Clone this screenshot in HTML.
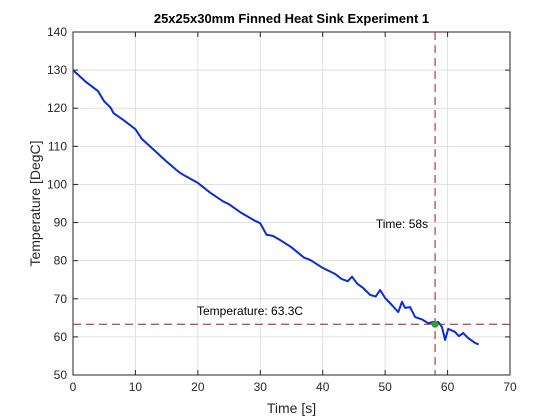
<!DOCTYPE html>
<html><head><style>body{margin:0;background:#fff}svg{display:block;font-family:"Liberation Sans",sans-serif}</style></head>
<body>
<svg id="chart" width="560" height="420" viewBox="0 0 560 420">
<rect width="560" height="420" fill="#fff"/>
<g id="plot"></g>
</svg>
<script>
const times=[0,2,4,5,6,6.5,8,10,11,13,15,17,18,20,22,24,25,27,29,30,31,32,33,35,37,38,40,42,43,44,44.7,45.5,46.5,47.6,48.5,49.2,50,51,52.1,52.7,53.2,54,54.8,56,56.9,57.7,58.5,59.1,59.6,60.1,61.2,61.8,62.5,63.3,64.4,65];
const temps=[130,127,124.5,121.8,120.2,118.7,117,114.5,112,109,106,103.2,102.2,100.4,97.8,95.6,94.8,92.5,90.6,89.8,86.8,86.5,85.6,83.5,80.8,80.2,78.1,76.5,75.2,74.6,75.8,74,72.8,71,70.6,72.3,70.2,68.5,66.5,69.2,67.6,67.8,65.2,64.5,63.6,63.9,63.9,62.6,59.2,62.1,61.3,60.2,61,59.7,58.4,58];
const xTicks=[0,10,20,30,40,50,60,70];
const yTicks=[50,60,70,80,90,100,110,120,130,140];
const markT=[58], markV=[63.3];
const L=73,R=510,T=32,B=375;
const sx=v=>L+(v-0)/70*(R-L), sy=v=>B-(v-50)/90*(B-T);
const NS="http://www.w3.org/2000/svg", g=document.getElementById('plot');
function mk(tag,a,txt){const e=document.createElementNS(NS,tag);for(const k in a)e.setAttribute(k,a[k]);if(txt!==undefined)e.textContent=txt;g.appendChild(e);return e;}
xTicks.forEach(v=>{
 const l=mk('line',{x1:sx(v),x2:sx(v),y1:T,y2:B,stroke:'#e0e0e0','stroke-width':1});
 
 
 mk('line',{x1:sx(v),x2:sx(v),y1:B,y2:B-5,stroke:'#262626'});
 mk('line',{x1:sx(v),x2:sx(v),y1:T,y2:T+5,stroke:'#262626'});
 const t=mk('text',{x:sx(v),y:B+16,'text-anchor':'middle','font-size':12,fill:'#262626'},v);
 
 
});
yTicks.forEach(v=>{
 const l=mk('line',{x1:L,x2:R,y1:sy(v),y2:sy(v),stroke:'#e0e0e0','stroke-width':1});
 
 
 mk('line',{x1:L,x2:L+5,y1:sy(v),y2:sy(v),stroke:'#262626'});
 mk('line',{x1:R,x2:R-5,y1:sy(v),y2:sy(v),stroke:'#262626'});
 const t=mk('text',{x:L-6,y:sy(v)+4,'text-anchor':'end','font-size':12,fill:'#262626'},v);
 
 
});
const box=mk('rect',{x:L,y:T,width:R-L,height:B-T,fill:'none',stroke:'#262626','stroke-width':1});


const line=mk('polyline',{points:times.map((t,i)=>sx(t)+','+sy(temps[i])).join(' '),fill:'none',stroke:'#0b2bd6','stroke-width':2,'stroke-linejoin':'round'});


const vl=mk('line',{x1:sx(markT[0]),x2:sx(markT[0]),y1:T,y2:B,stroke:'#a2142f','stroke-dasharray':'8,5','stroke-width':1});


const hl=mk('line',{x1:L,x2:R,y1:sy(markV[0]),y2:sy(markV[0]),stroke:'#a2142f','stroke-dasharray':'8,5','stroke-width':1});


const pt=mk('circle',{cx:sx(markT[0]),cy:sy(markV[0]),r:3.5,fill:'#2ca02c'});


const tl=mk('text',{x:sx(markT[0])-7,y:228,'text-anchor':'end','font-size':12,fill:'#000'},'Time: '+markT[0]+'s');


const vlab=mk('text',{x:197,y:315,'font-size':12,fill:'#000'},'Temperature: '+markV[0]+'C');


const ti=mk('text',{x:(L+R)/2,y:23,'text-anchor':'middle','font-size':13,'font-weight':'bold',fill:'#000'},'25x25x30mm Finned Heat Sink Experiment 1');


const xt=mk('text',{x:(L+R)/2,y:413,'text-anchor':'middle','font-size':14,fill:'#262626'},'Time [s]');


const yt=mk('text',{x:0,y:0,'text-anchor':'middle','font-size':14,fill:'#262626',transform:`translate(40,${(T+B)/2}) rotate(-90)`},'Temperature [DegC]');


</script>
</body></html>
